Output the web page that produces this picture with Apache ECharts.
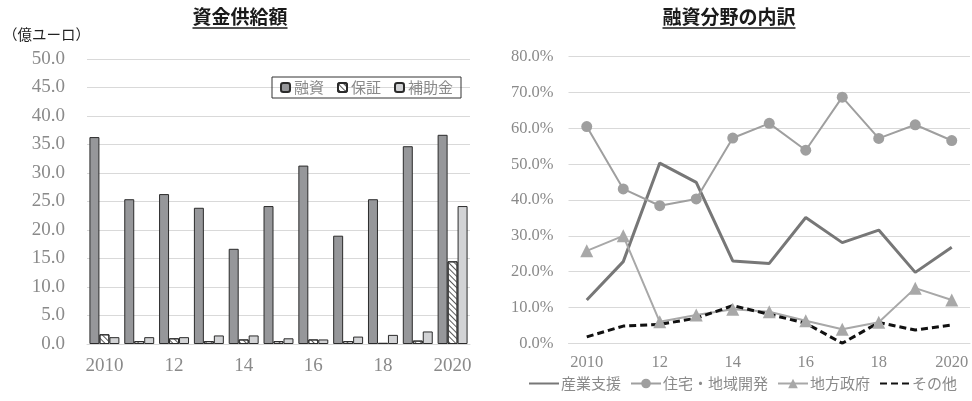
<!DOCTYPE html>
<html>
<head>
<meta charset="utf-8">
<script src="https://cdn.jsdelivr.net/npm/echarts@6/dist/echarts.min.js"></script>
<style>
  html, body { margin: 0; padding: 0; background: #fff; }
  #chart { width: 972px; height: 401px; }
</style>
</head>
<body>
<div id="chart"></div>
<script>
// Years (shared by both panels)
const years = ['2010', '11', '12', '13', '14', '15', '16', '17', '18', '19', '2020'];

// 資金供給額 (億ユーロ)
const loanAmounts      = [36.3, 25.4, 26.3, 23.9, 16.7, 24.2, 31.3, 19.0, 25.4, 34.7, 36.7];
const guaranteeAmounts = [1.7, 0.5, 1.0, 0.5, 0.8, 0.5, 0.8, 0.5, 0.2, 0.6, 14.5];
const grantAmounts     = [1.2, 1.2, 1.2, 1.5, 1.5, 1.0, 0.8, 1.3, 1.6, 2.2, 24.2];

// 融資分野の内訳 (%)
const industryShare = [12.1, 22.8, 50.3, 44.9, 23.0, 22.3, 35.1, 28.1, 31.6, 19.8, 26.8];
const housingShare  = [60.5, 43.1, 38.4, 40.3, 57.3, 61.4, 53.9, 68.7, 57.2, 61.0, 56.6];
const localGovShare = [25.8, 30.0, 6.0, 7.9, 9.5, 8.8, 6.3, 3.9, 5.9, 15.4, 12.1];
const otherShare    = [1.8, 4.8, 5.3, 7.0, 10.5, 8.1, 5.6, 0.0, 5.8, 3.7, 5.1];

const leftTitle = '資金供給額';
const rightTitle = '融資分野の内訳';
const unitLabel = '（億ユーロ）';

const CJK = '"Noto Sans CJK JP", "Noto Sans", sans-serif';
const SERIF = '"Liberation Serif", "DejaVu Serif", serif';
const GREY_TEXT = '#8a8a8a';
const GRID_LINE = '#d9d9d9';

function textWidth(text, font) {
  const c = document.createElement('canvas').getContext('2d');
  c.font = font;
  return c.measureText(text).width;
}

// Bold underlined panel heading
function titleGraphic(text, cx) {
  const font = 'bold 19px ' + CJK;
  const w = textWidth(text, font);
  return [
    { type: 'text', x: cx, y: 7, style: { text: text, font: font, fill: '#1a1a1a', textAlign: 'center' } },
    { type: 'line', shape: { x1: cx - w / 2, y1: 28, x2: cx + w / 2, y2: 28 }, style: { stroke: '#1a1a1a', lineWidth: 1.3 } }
  ];
}

const chart = echarts.init(document.getElementById('chart'), null, { renderer: 'canvas' });

const barBorder = { borderColor: '#2b2b2b', borderWidth: 1 };
const hatch = {
  symbol: 'rect', symbolSize: 1,
  dashArrayX: [1, 0], dashArrayY: [1, 2.2],
  rotation: Math.PI / 4, color: '#5a5a5a'
};

chart.setOption({
  animation: false,
  backgroundColor: '#fff',
  graphic: [
    ...titleGraphic(leftTitle, 240),
    ...titleGraphic(rightTitle, 729),
    { type: 'text', x: 3, y: 27, style: { text: unitLabel, font: '14.5px ' + CJK, fill: '#222' } }
  ],
  legend: [
    {
      data: ['融資', '保証', '補助金'],
      left: 272, top: 77,
      padding: [3, 8, 3, 8],
      itemWidth: 9, itemHeight: 9, itemGap: 13,
      borderColor: '#333', borderWidth: 1,
      textStyle: { fontFamily: CJK, fontSize: 15, color: GREY_TEXT, padding: [0, 0, 0, -1] }
    },
    {
      data: [
        { name: '産業支援', itemStyle: { opacity: 0 } },
        '住宅・地域開発',
        '地方政府',
        { name: 'その他', itemStyle: { opacity: 0 } }
      ],
      left: 528, right: 0, top: 376,
      padding: 0,
      itemWidth: 30, itemHeight: 12, itemGap: 9,
      textStyle: { fontFamily: CJK, fontSize: 15, color: GREY_TEXT, padding: [0, 0, 0, -3] }
    }
  ],
  grid: [
    { left: 87, right: 502, top: 59, bottom: 57 },
    { left: 568.5, right: 2, top: 56.7, bottom: 57.7 }
  ],
  xAxis: [
    {
      type: 'category', gridIndex: 0, data: years,
      axisLine: { lineStyle: { color: GRID_LINE, width: 1 } },
      axisTick: { show: false },
      axisLabel: { interval: 1, margin: 13, fontFamily: SERIF, fontSize: 19, color: GREY_TEXT }
    },
    {
      type: 'category', gridIndex: 1, data: years,
      axisLine: { lineStyle: { color: GRID_LINE, width: 1 } },
      axisTick: { show: false },
      axisLabel: { interval: 1, margin: 11, fontFamily: SERIF, fontSize: 16.5, color: GREY_TEXT }
    }
  ],
  yAxis: [
    {
      type: 'value', gridIndex: 0, min: 0, max: 50, interval: 5,
      axisLine: { show: false }, axisTick: { show: false },
      splitLine: { lineStyle: { color: GRID_LINE, width: 1 } },
      axisLabel: { margin: 22, fontFamily: SERIF, fontSize: 19, color: GREY_TEXT, formatter: v => v.toFixed(1) }
    },
    {
      type: 'value', gridIndex: 1, min: 0, max: 80, interval: 10,
      axisLine: { show: false }, axisTick: { show: false },
      splitLine: { lineStyle: { color: GRID_LINE, width: 1 } },
      axisLabel: { margin: 15, fontFamily: SERIF, fontSize: 16.5, color: GREY_TEXT, formatter: v => v.toFixed(1) + '%' }
    }
  ],
  series: [
    {
      name: '融資', type: 'bar', xAxisIndex: 0, yAxisIndex: 0, data: loanAmounts,
      barGap: '0%', barCategoryGap: '14%',
      itemStyle: Object.assign({ color: '#96979a' }, barBorder)
    },
    {
      name: '保証', type: 'bar', xAxisIndex: 0, yAxisIndex: 0, data: guaranteeAmounts,
      barGap: '0%', barCategoryGap: '14%',
      itemStyle: Object.assign({ color: '#ffffff', decal: hatch }, barBorder)
    },
    {
      name: '補助金', type: 'bar', xAxisIndex: 0, yAxisIndex: 0, data: grantAmounts,
      barGap: '0%', barCategoryGap: '14%',
      itemStyle: Object.assign({ color: '#d2d3d5' }, barBorder)
    },
    {
      name: '産業支援', type: 'line', xAxisIndex: 1, yAxisIndex: 1, data: industryShare,
      symbol: 'none', lineStyle: { color: '#777777', width: 3 }, itemStyle: { color: '#777777' }
    },
    {
      name: '住宅・地域開発', type: 'line', xAxisIndex: 1, yAxisIndex: 1, data: housingShare,
      symbol: 'circle', symbolSize: 11,
      lineStyle: { color: '#9f9f9f', width: 2 }, itemStyle: { color: '#9f9f9f' }
    },
    {
      name: '地方政府', type: 'line', xAxisIndex: 1, yAxisIndex: 1, data: localGovShare,
      symbol: 'triangle', symbolSize: 13,
      lineStyle: { color: '#a8a8a8', width: 2 }, itemStyle: { color: '#a8a8a8' }
    },
    {
      name: 'その他', type: 'line', xAxisIndex: 1, yAxisIndex: 1, data: otherShare,
      symbol: 'none', lineStyle: { color: '#111111', width: 3, type: [7, 4] }, itemStyle: { color: '#111111' }
    }
  ]
});
</script>
</body>
</html>
